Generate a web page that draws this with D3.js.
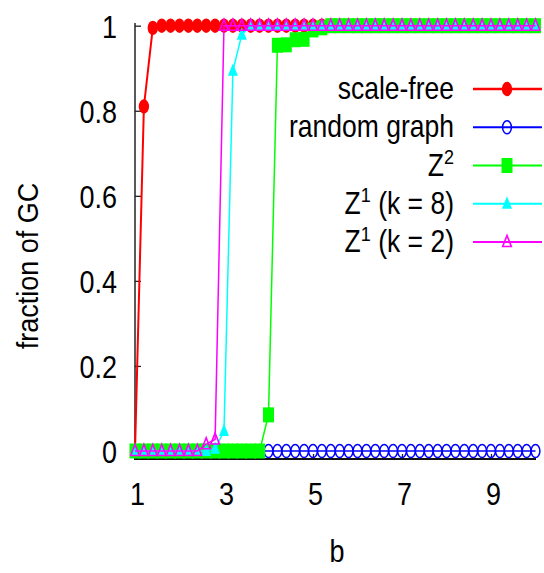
<!DOCTYPE html>
<html><head><meta charset="utf-8">
<script src="https://cdn.jsdelivr.net/npm/d3@7"></script>
<style>body{margin:0;background:#fff}svg{display:block}text{font-family:"Liberation Sans",Arial,sans-serif;fill:#000}</style>
</head><body>
<svg id="chart" width="544" height="573"></svg>
<script>
// ---- data ----
const bValues = [
  1, 1.2, 1.4, 1.6, 1.8, 2, 2.2, 2.4, 2.6, 2.8,
  3, 3.2, 3.4, 3.6, 3.8, 4, 4.2, 4.4, 4.6, 4.8,
  5, 5.2, 5.4, 5.6, 5.8, 6, 6.2, 6.4, 6.6, 6.8,
  7, 7.2, 7.4, 7.6, 7.8, 8, 8.2, 8.4, 8.6, 8.8,
  9, 9.2, 9.4, 9.6, 9.8, 10];
const scaleFree = [
  0, 0.81, 0.995, 1, 1, 1, 1, 1, 1, 1,
  1, 1, 1, 1, 1, 1, 1, 1, 1, 1,
  1, 1, 1, 1, 1, 1, 1, 1, 1, 1,
  1, 1, 1, 1, 1, 1, 1, 1, 1, 1,
  1, 1, 1, 1, 1, 1];
const randomGraph = [
  0, 0, 0, 0, 0, 0, 0, 0, 0, 0,
  0, 0, 0, 0, 0, 0, 0, 0, 0, 0,
  0, 0, 0, 0, 0, 0, 0, 0, 0, 0,
  0, 0, 0, 0, 0, 0, 0, 0, 0, 0,
  0, 0, 0, 0, 0, 0];
const z2 = [
  0, 0, 0, 0, 0, 0, 0, 0, 0, 0,
  0, 0, 0, 0, 0, 0.085, 0.954, 0.955, 0.967, 0.968,
  0.99, 0.995, 1, 1, 1, 1, 1, 1, 1, 1,
  1, 1, 1, 1, 1, 1, 1, 1, 1, 1,
  1, 1, 1, 1, 1, 1];
const z1k8 = [
  0, 0, 0, 0, 0, 0, 0, 0, 0, 0.005,
  0.047, 0.894, 0.979, 1, 1, 1, 1, 1, 1, 1,
  1, 1, 1, 1, 1, 1, 1, 1, 1, 1,
  1, 1, 1, 1, 1, 1, 1, 1, 1, 1,
  1, 1, 1, 1, 1, 1];
const z1k2 = [
  0, 0, 0, 0, 0, 0, 0, 0, 0.016, 0.027,
  1, 1, 1, 1, 1, 1, 1, 1, 1, 1,
  1, 1, 1, 1, 1, 1, 1, 1, 1, 1,
  1, 1, 1, 1, 1, 1, 1, 1, 1, 1,
  1, 1, 1, 1, 1, 1];
const xTicks = [1, 3, 5, 7, 9];
const yTicks = [0, 0.2, 0.4, 0.6, 0.8, 1];
const yTickLabels = ["0", "0.2", "0.4", "0.6", "0.8", "1"];
const seriesNames = ["scale-free", "random graph", "Z2", "Z1 (k = 8)", "Z1 (k = 2)"];
const seriesValues = [scaleFree, randomGraph, z2, z1k8, z1k2];
// legend label pieces: [base, superscript, rest]
const legendParts = [["scale-free", "", ""], ["random graph", "", ""], ["Z", "2", ""], ["Z", "1", " (k = 8)"], ["Z", "1", " (k = 2)"]];
const seriesColors = ["#ff0000", "#0000ff", "#00ff00", "#00ffff", "#ff00ff"];
const seriesMarkers = ["fcircle", "ocircle", "fsquare", "ftri", "otri"];

// ---- drawing ----
const svg = d3.select("#chart");
const x = d3.scaleLinear().domain([1, 10]).range([135, 535.5]);
const y = d3.scaleLinear().domain([0, 1]).range([451, 25.7]);

function markerPath(type) {
  if (type === "fsquare") return "M-5.5,-7.5H5.5V7.5H-5.5Z";
  if (type === "ftri") return "M0,-7.5L5,5L-5,5Z";
  if (type === "otri") return "M0,-6.5L4.3,4.5L-4.3,4.5Z";
  return null;
}
function drawMarker(g, type, color) {
  if (type === "fcircle") g.append("ellipse").attr("rx", 5.2).attr("ry", 7.2).attr("fill", color);
  else if (type === "ocircle") g.append("ellipse").attr("rx", 4.4).attr("ry", 6.5).attr("fill", "none").attr("stroke", color).attr("stroke-width", 1.5);
  else if (type === "fsquare") g.append("path").attr("d", markerPath(type)).attr("fill", color);
  else if (type === "ftri") g.append("path").attr("d", markerPath(type)).attr("fill", color);
  else if (type === "otri") g.append("path").attr("d", markerPath(type)).attr("fill", "none").attr("stroke", color).attr("stroke-width", 1.6);
}

// axes
const yAxis = d3.axisLeft(y).tickValues(yTicks).tickFormat((d, i) => yTickLabels[i]).tickSize(-6).tickSizeOuter(0).tickPadding(18);
const gy = svg.append("g").attr("transform", "translate(135,0)").call(yAxis);
gy.select(".domain").remove();
gy.selectAll(".tick line").attr("stroke", "#222").attr("stroke-width", 1.3);
gy.selectAll(".tick text").attr("font-size", 27).attr("font-family", "Liberation Sans, Arial, sans-serif")
  .attr("dy", "0.36em").attr("transform", "scale(1,1.18)");
svg.append("line").attr("x1", 135).attr("x2", 135).attr("y1", 23).attr("y2", 459).attr("stroke", "#222").attr("stroke-width", 1.5);

const xAxis = d3.axisBottom(x).tickValues(xTicks).tickFormat(d3.format("d")).tickSize(-5).tickSizeOuter(0).tickPadding(20);
const gx = svg.append("g").attr("transform", "translate(0,459)").call(xAxis);
gx.select(".domain").remove();
gx.selectAll(".tick line").attr("stroke", "#222").attr("stroke-width", 1.3);
gx.selectAll(".tick text").attr("font-size", 27).attr("font-family", "Liberation Sans, Arial, sans-serif")
  .attr("transform", "translate(2,0) scale(1,1.18)");
svg.append("line").attr("x1", 134).attr("x2", 536).attr("y1", 459).attr("y2", 459).attr("stroke", "#111").attr("stroke-width", 2.2);

// axis titles
svg.append("text").attr("transform", "translate(38,266) rotate(-90) scale(1,1.1)").attr("text-anchor", "middle").attr("font-size", 27).text("fraction of GC");
svg.append("text").attr("transform", "translate(337,562) scale(1,1.18)").attr("text-anchor", "middle").attr("font-size", 27).text("b");

// series
const line = d3.line().x(d => x(d.b)).y(d => y(d.v));
seriesValues.forEach((vals, si) => {
  const pts = bValues.map((b, i) => ({ b: b, v: vals[i] }));
  const g = svg.append("g").attr("class", "series");
  g.append("path").datum(pts).attr("d", line).attr("fill", "none").attr("stroke", seriesColors[si]).attr("stroke-width", si === 0 ? 2 : 1.5);
  g.selectAll("g.pt").data(pts).enter().append("g").attr("class", "pt")
    .attr("transform", d => `translate(${x(d.b)},${y(d.v)})`)
    .each(function () { drawMarker(d3.select(this), seriesMarkers[si], seriesColors[si]); });
});

// legend
const legendRowY = d3.scalePoint().domain(seriesNames).range([89, 242]);
seriesNames.forEach((name, si) => {
  const ry = legendRowY(name);
  const lg = svg.append("g");
  const t = lg.append("text").attr("transform", `translate(454,${ry + 10}) scale(1,1.15)`).attr("text-anchor", "end").attr("font-size", 26.5);
  const p = legendParts[si];
  t.append("tspan").text(p[0]);
  if (p[1]) {
    t.append("tspan").attr("dy", -10).attr("font-size", 18).text(p[1]);
    if (p[2]) t.append("tspan").attr("dy", 10).text(p[2]);
  }
  lg.append("line").attr("x1", 473).attr("x2", 542).attr("y1", ry).attr("y2", ry).attr("stroke", seriesColors[si]).attr("stroke-width", si === 0 ? 2.5 : 2);
  const mg = lg.append("g").attr("transform", `translate(507,${ry})`);
  drawMarker(mg, seriesMarkers[si], seriesColors[si]);
});
</script>
</body></html>
